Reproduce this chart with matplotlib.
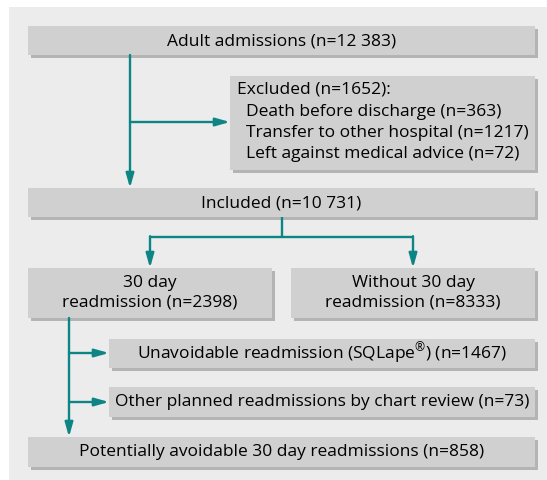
import matplotlib.pyplot as plt
from matplotlib.patches import Rectangle

plt.rcParams['font.family'] = ['Open Sans', 'DejaVu Sans']
plt.rcParams['mathtext.fontset'] = 'custom'
plt.rcParams['mathtext.rm'] = 'Open Sans'

# flowchart texts and counts
n_admissions = "12 383"
n_excluded = 1652
excluded_reasons = ["Death before discharge", "Transfer to other hospital", "Left against medical advice"]
excluded_counts = [363, 1217, 72]
n_included = "10 731"
n_readmitted = 2398
n_not_readmitted = 8333
n_unavoidable = 1467
n_planned = 73
n_avoidable = 858

TEAL = "#0e8585"
BOX = "#d0d0d0"
SHADOW = "#b4b4b4"
PANEL = "#ececec"
FS = 12.5

fig = plt.figure(figsize=(5.47, 4.80), dpi=100)
ax = fig.add_axes([0, 0, 1, 1])
ax.set_xlim(0, 547)
ax.set_ylim(480, 0)
ax.axis('off')

ax.add_patch(Rectangle((9, 7), 540, 475, color=PANEL, lw=0))


def box(x0, y0, x1, y1):
    ax.add_patch(Rectangle((x0 + 3, y0 + 3), x1 - x0, y1 - y0, color=SHADOW, lw=0))
    ax.add_patch(Rectangle((x0, y0), x1 - x0, y1 - y0, color=BOX, lw=0))


def arrow(x0, y0, x1, y1):
    ax.annotate("", xy=(x1, y1), xytext=(x0, y0),
                arrowprops=dict(arrowstyle="-|>,head_length=0.85,head_width=0.24",
                                color=TEAL, lw=1.7, shrinkA=0, shrinkB=0))


def line(xs, ys):
    ax.plot(xs, ys, color=TEAL, lw=1.7, solid_capstyle='butt')


# boxes
box(28, 26, 535, 55)
box(230, 76, 535, 170)
box(28, 188, 535, 217)
box(28, 268, 272, 318)
box(291, 268, 535, 318)
box(109, 339, 535, 368)
box(109, 387, 535, 417)
box(28, 437, 535, 467)

# texts
ax.text(281.5, 41, f"Adult admissions (n={n_admissions})", ha='center', va='center', fontsize=FS)
ax.text(237, 90, f"Excluded (n={n_excluded}):", ha='left', va='center', fontsize=FS)
for i, (r, c) in enumerate(zip(excluded_reasons, excluded_counts)):
    ax.text(246, 112 + 21 * i, f"{r} (n={c})", ha='left', va='center', fontsize=FS)
ax.text(281.5, 203, f"Included (n={n_included})", ha='center', va='center', fontsize=FS)
ax.text(150, 293, f"30 day\nreadmission (n={n_readmitted})", ha='center', va='center',
        fontsize=FS, linespacing=1.32)
ax.text(413, 293, f"Without 30 day\nreadmission (n={n_not_readmitted})", ha='center', va='center',
        fontsize=FS, linespacing=1.32)
ax.text(322, 354, f"Unavoidable readmission (SQLape$^{{\\mathrm{{®}}}}$) (n={n_unavoidable})",
        ha='center', va='center', fontsize=FS)
ax.text(322, 402, f"Other planned readmissions by chart review (n={n_planned})",
        ha='center', va='center', fontsize=FS)
ax.text(281.5, 452, f"Potentially avoidable 30 day readmissions (n={n_avoidable})",
        ha='center', va='center', fontsize=FS)

# connectors
arrow(130, 55, 130, 188)
arrow(130, 122, 230, 122)
line([282, 282], [217, 237])
line([150, 413], [237, 237])
arrow(150, 236.2, 150, 268)
arrow(413, 236.2, 413, 268)
arrow(69, 318, 69, 437)
arrow(69, 353, 109, 353)
arrow(69, 402, 109, 402)

fig.savefig("out.png", dpi=100)
